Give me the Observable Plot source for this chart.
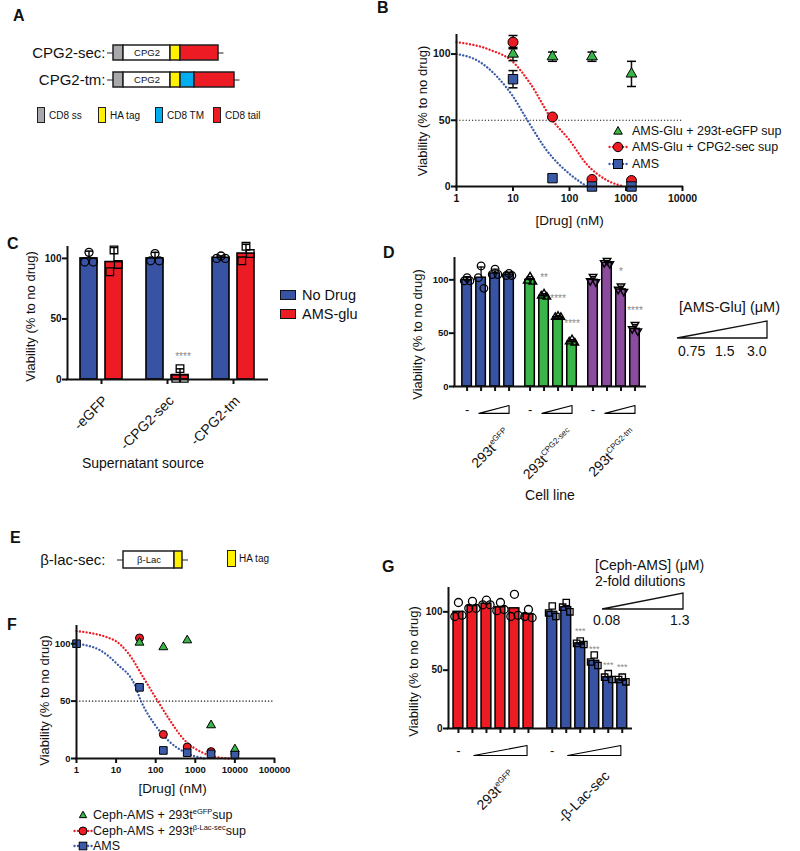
<!DOCTYPE html>
<html>
<head>
<meta charset="utf-8">
<script src="https://cdn.jsdelivr.net/npm/d3@7"></script>
<script src="https://cdn.jsdelivr.net/npm/@observablehq/plot@0.6"></script>
<style>
  html, body { margin: 0; padding: 0; background: #fff; }
  #root { position: relative; width: 800px; height: 851px; overflow: hidden; background: #fff;
          font-family: "Liberation Sans", Arial, Helvetica, sans-serif; color: #111; }
  .abs { position: absolute; white-space: nowrap; line-height: 1; }
  .sup { font-size: 7.5px; position: relative; top: -5px; }
  g[aria-label="y-axis tick label"], g[aria-label="x-axis tick label"] { font-weight: bold; }
</style>
</head>
<body>
<div id="root"></div>
<script>
// ===================== DATA =====================
// Panel A – construct diagrams (relative segment lengths)
const constructsA = ["CPG2-sec:", "CPG2-tm:"];
const cpg2SecParts = ["CD8 ss", "CPG2", "HA tag", "CD8 tail"];
const cpg2SecLengths = [1, 4.7, 1, 3.8];
const cpg2TmParts = ["CD8 ss", "CPG2", "HA tag", "CD8 TM", "CD8 tail"];
const cpg2TmLengths = [1, 4.7, 1, 1.4, 4.0];
const legendPartsA = ["CD8 ss", "HA tag", "CD8 TM", "CD8 tail"];

// Panel E – construct diagram
const constructsE = ["β-lac-sec:"];
const blacParts = ["β-Lac", "HA tag"];
const blacLengths = [5.1, 0.8];

// Panel B – dose response (nM)
const seriesB = ["AMS-Glu + 293t-eGFP sup", "AMS-Glu + CPG2-sec sup", "AMS"];
const doseB = [10, 50, 250, 1250];
const egfpSupB = [100, 98, 98, 85];
const egfpSupErrB = [5, 3.5, 3.5, 9.5];
const cpg2SupB = [109, 52.5, 5.3, 4.5];
const cpg2SupErrB = [5, 0, 0, 0];
const amsB = [81, 6.3, 0, 0];
const amsErrB = [6.5, 0, 0, 0];
const fitCpg2DoseB = [1, 4, 10, 20, 50, 100, 200, 470, 920];
const fitCpg2ValB  = [109, 103, 94, 78, 50, 35, 17, 4.5, 0];
const fitAmsDoseB  = [1, 2.6, 5.2, 10, 18, 40, 97, 205];
const fitAmsValB   = [100, 94, 83, 68, 50, 27, 10, 0];

// Panel C – supernatant source
const groupsC = ["-eGFP", "-CPG2-sec", "-CPG2-tm"];
const treatmentsC = ["No Drug", "AMS-glu"];
const noDrugC = [100, 100, 100.5];
const amsGluC = [97, 3.5, 104];
const noDrugErrC = [6, 5, 1.5];
const amsGluErrC = [12, 5.3, 7.6];
const noDrugRepsC = [[105, 97, 97], [104, 98, 98], [102, 100, 100]];
const amsGluRepsC = [[107, 89, 95], [9, 1, 1], [110, 98, 104]];
const starsAmsGluC = ["", "****", ""];

// Panel D – cell lines x [AMS-Glu]
const cellLinesD = ["293t", "293t", "293t"];
const cellLineSupD = ["eGFP", "CPG2-sec", "CPG2-tm"];
const doseLabelsD = ["0.75", "1.5", "3.0"];
const egfpD = [100, 102, 106, 105];
const cpg2SecD = [100, 85, 65, 42];
const cpg2TmD = [100, 116, 91, 54];
const egfpErrD = [3, 10, 4, 2];
const cpg2SecErrD = [3, 2, 1.5, 2];
const cpg2TmErrD = [3, 2, 3, 4];
const egfpRepsD = [[102, 99, 99], [113, 102, 92], [110, 105, 105], [106, 104, 104]];
const cpg2SecRepsD = [[103, 99, 98], [87, 85, 84], [66, 65, 65], [44, 42, 41]];
const cpg2TmRepsD = [[103, 99, 98], [118, 116, 115], [94, 91, 89], [58, 54, 52]];
const egfpStarsD = ["", "", "", ""];
const cpg2SecStarsD = ["", "**", "****", "****"];
const cpg2TmStarsD = ["", "", "*", "****"];

// Panel F – dose response (nM)
const seriesF = ["Ceph-AMS + 293t", "Ceph-AMS + 293t", "AMS"];
const seriesSupF = ["eGFP", "β-Lac-sec", ""];
const doseF = [1, 39, 156, 625, 2500, 10000];
const egfpSupF = [null, 101, 97, 103, 29, 8];
const blacSupF = [null, 105, 21, 10, 6, 4];
const amsF = [100, 62, 7, 5, 4, 3];
const fitBlacDoseF = [1, 9, 20, 50, 113, 203, 535, 1440, 3800, 7000];
const fitBlacValF  = [111, 103, 92, 70, 50, 36, 16, 5.5, 1, 0];
const fitAmsDoseF  = [1, 4.1, 10.8, 28.7, 42.6, 93, 203, 535, 1740];
const fitAmsValF   = [100, 94, 82, 65, 50, 30, 16, 5.5, 0];

// Panel G – [Ceph-AMS] 2-fold dilutions
const groupsG = ["293t", "-β-Lac-sec"];
const groupSupG = ["eGFP", ""];
const doseLabelsG = ["0.08", "1.3"];
const egfpG = [100, 105, 107, 104, 103, 98];
const blacG = [100, 104, 73, 58, 44, 42];
const egfpRepsG = [[108, 96, 97], [109, 103, 103], [110, 106, 106], [108, 101, 102], [115, 96, 97], [102, 96, 95]];
const blacRepsG = [[105, 99, 96], [108, 104, 100], [75, 73, 72], [63, 57, 54], [47, 44, 42], [44, 42, 40]];
const blacStarsG = ["", "", "***", "***", "***", "***"];

const yTicks = [0, 50, 100];
const yTitle = "Viability (% to no drug)";

// ===================== STYLE =====================
const BLUE = "#3953a4", RED = "#ed1c24", GREEN = "#3ab54a", PURPLE = "#8b4c9f", MBLUE = "#3b5ba8";
const partColor = {"CD8 ss": "#a8a9ad", "CPG2": "#ffffff", "β-Lac": "#ffffff", "HA tag": "#fff200", "CD8 TM": "#00aeef", "CD8 tail": "#ed1c24"};
const FONT = '"Liberation Sans", Arial, Helvetica, sans-serif';
const baseStyle = {fontFamily: FONT, fontSize: "10px", overflow: "visible", background: "transparent", color: "#111"};
const DOTS = {strokeWidth: 2.3, strokeDasharray: "0.1,3.3", strokeLinecap: "round", curve: "monotone-x"};
const capSym = {draw(ctx, size) { const w = Math.sqrt(size / Math.PI); ctx.moveTo(-w, 0); ctx.lineTo(w, 0); }};
const root = document.getElementById("root");

function place(node, left, top) {
  node.style.position = "absolute"; node.style.left = left + "px"; node.style.top = top + "px";
  root.appendChild(node); return node;
}
function html(str, left, top, css = "") {
  const d = document.createElement("div"); d.className = "abs"; d.innerHTML = str;
  d.style.cssText += css; return place(d, left, top);
}
function addSup(svg, desc, sups, size = 8, raise = -6) {
  svg.querySelectorAll(`g[aria-description="${desc}"] text`).forEach((t, i) => {
    if (!sups[i]) return;
    const ts = document.createElementNS("http://www.w3.org/2000/svg", "tspan");
    ts.setAttribute("dy", raise); ts.setAttribute("font-size", size); ts.textContent = sups[i];
    t.appendChild(ts);
  });
}
function frameAxes({xMin, xTicks, xFormat, tickFont = 10, yLabelDx, yLabelDy = 0, xLabel, xLabelDx = 0, xLabelDy, xLabelSize = 14}) {
  const m = [
    Plot.ruleY([0], {strokeWidth: 2, strokeLinecap: "square"}),
    Plot.ruleX([xMin], {strokeWidth: 2, strokeLinecap: "square"}),
    Plot.axisY({ticks: yTicks, tickSize: 5, tickPadding: 1, strokeWidth: 2, fontWeight: "bold", fontSize: tickFont, label: null}),
    Plot.axisX({ticks: xTicks, tickFormat: xFormat, tickSize: 5, tickPadding: 3, strokeWidth: 2, fontWeight: "bold", fontSize: tickFont, label: null}),
    Plot.text([yTitle], {text: d => d, frameAnchor: "left", textAnchor: "middle", lineAnchor: "middle", rotate: -90, dx: yLabelDx, dy: yLabelDy, fontSize: 13})
  ];
  if (xLabel) m.push(Plot.text([xLabel], {text: d => d, frameAnchor: "bottom", textAnchor: "middle", lineAnchor: "middle", dx: xLabelDx, dy: xLabelDy, fontSize: xLabelSize}));
  return m;
}

// ===================== PANEL A =====================
const segA = [];
constructsA.forEach((row, r) => {
  const parts = r === 0 ? cpg2SecParts : cpg2TmParts;
  const lens = r === 0 ? cpg2SecLengths : cpg2TmLengths;
  parts.forEach((p, i) => segA.push({row, part: p, len: lens[i]}));
});
const totalA = constructsA.map(row => d3.sum(segA.filter(d => d.row === row), d => d.len));
place(Plot.plot({
  width: 300, height: 100, marginLeft: 113, marginRight: 57, marginTop: 32, marginBottom: 0,
  style: baseStyle,
  x: {domain: [0, 13], axis: null},
  y: {domain: constructsA, padding: 0.43, axis: null},
  color: {type: "identity"},
  marks: [
    Plot.ruleY(constructsA, {y: d => d, x1: -0.6, x2: (d, i) => totalA[i] + 0.55, stroke: "#222", strokeWidth: 1.2}),
    Plot.barX(segA, {x: "len", y: "row", fill: d => partColor[d.part], stroke: "#231f20", strokeWidth: 1.5}),
    Plot.text(segA, Plot.stackX({x: "len", y: "row", text: d => d.part === "CPG2" ? "CPG2" : "", fontSize: 9.5})),
    Plot.text(constructsA, {y: d => d, text: d => d, frameAnchor: "left", dx: -8, textAnchor: "end", fontSize: 15})
  ]
}), 0, 0);

// legend A
legendPartsA.forEach((p, i) => {
  const left = [37, 98, 155, 213][i];
  html("", left, 107, `width:8px;height:16px;box-sizing:border-box;border:1.5px solid #231f20;background:${partColor[p]}`);
  html(p, left + 12, 111, "font-size:10px");
});

// ===================== PANEL E =====================
const segE = blacParts.map((p, i) => ({row: constructsE[0], part: p, len: blacLengths[i]}));
const totalE = d3.sum(blacLengths);
place(Plot.plot({
  width: 250, height: 17, marginLeft: 123, marginRight: 0, marginTop: 0, marginBottom: 0,
  style: baseStyle,
  x: {domain: [0, 12.7], axis: null},
  y: {domain: constructsE, padding: 0, axis: null},
  color: {type: "identity"},
  marks: [
    Plot.ruleY(constructsE, {y: d => d, x1: -0.6, x2: totalE + 0.6, stroke: "#222", strokeWidth: 1.2}),
    Plot.barX(segE, {x: "len", y: "row", fill: d => partColor[d.part], stroke: "#231f20", strokeWidth: 1.5}),
    Plot.text(segE, Plot.stackX({x: "len", y: "row", text: d => d.part === "β-Lac" ? "β-Lac" : "", fontSize: 9.5})),
    Plot.text(constructsE, {y: d => d, text: d => d, frameAnchor: "left", dx: -18, textAnchor: "end", fontSize: 15})
  ]
}), 0, 551);
html("", 227, 550, `width:9px;height:17px;box-sizing:border-box;border:1.5px solid #231f20;background:${partColor["HA tag"]}`);
html("HA tag", 239, 554, "font-size:10px");

// ===================== PANEL B =====================
const tab = (dose, vals, errs, s) => dose.map((d, i) => ({dose: d, v: vals[i], e: errs ? errs[i] : 0, s})).filter(d => d.v != null);
const ptsB = [...tab(doseB, egfpSupB, egfpSupErrB, 0), ...tab(doseB, cpg2SupB, cpg2SupErrB, 1), ...tab(doseB, amsB, amsErrB, 2)];
const errB = ptsB.filter(d => d.e > 0);
const fitB = [...fitCpg2DoseB.map((x, i) => ({x, y: fitCpg2ValB[i], s: 1})), ...fitAmsDoseB.map((x, i) => ({x, y: fitAmsValB[i], s: 2}))];
place(Plot.plot({
  width: 420, height: 235, marginLeft: 76, marginRight: 118, marginTop: 35, marginBottom: 49,
  style: baseStyle,
  x: {type: "log", domain: [1, 10000]},
  y: {domain: [0, 114]},
  marks: [
    Plot.ruleY([50], {stroke: "#111", strokeWidth: 1.2, strokeDasharray: "1.2,2"}),
    Plot.line(fitB.filter(d => d.s === 1), {x: "x", y: "y", stroke: RED, ...DOTS}),
    Plot.line(fitB.filter(d => d.s === 2), {x: "x", y: "y", stroke: MBLUE, ...DOTS}),
    Plot.ruleX(errB, {x: "dose", y1: d => d.v - d.e, y2: d => d.v + d.e, strokeWidth: 1.5}),
    Plot.dot(errB, {x: "dose", y: d => d.v + d.e, symbol: capSym, r: 4.5, fill: "none", stroke: "black", strokeWidth: 1.5}),
    Plot.dot(errB, {x: "dose", y: d => d.v - d.e, symbol: capSym, r: 4.5, fill: "none", stroke: "black", strokeWidth: 1.5}),
    Plot.dot(ptsB.filter(d => d.s === 0), {x: "dose", y: "v", symbol: "triangle", r: 4, fill: GREEN, stroke: "black", strokeWidth: 1}),
    Plot.dot(ptsB.filter(d => d.s === 1), {x: "dose", y: "v", symbol: "circle", r: 5, fill: RED, stroke: "black", strokeWidth: 1}),
    Plot.dot(ptsB.filter(d => d.s === 2), {x: "dose", y: "v", symbol: "square", r: 5.3, fill: MBLUE, stroke: "black", strokeWidth: 1}),
    ...frameAxes({xMin: 1, xTicks: [1, 10, 100, 1000, 10000], xFormat: d => String(d), tickFont: 10.5, yLabelDx: -34, xLabel: "[Drug] (nM)", xLabelDy: 34, xLabelSize: 13.5})
  ]
}), 380, 0);

function marker(type, color, withLine, r) {
  const w = 20, h = 14, c = 10, cy = 7;
  let s = `<svg width="${w}" height="${h}" style="display:block">`;
  if (withLine) s += `<line x1="1.5" y1="${cy}" x2="19" y2="${cy}" stroke="${color}" stroke-width="2.3" stroke-linecap="round" stroke-dasharray="0.1,3.3"/>`;
  if (type === "triangle") s += `<polygon points="${c},${cy - r} ${c + r * 0.95},${cy + r * 0.7} ${c - r * 0.95},${cy + r * 0.7}" fill="${color}" stroke="#000" stroke-width="1"/>`;
  if (type === "circle") s += `<circle cx="${c}" cy="${cy}" r="${r}" fill="${color}" stroke="#000" stroke-width="1"/>`;
  if (type === "square") s += `<rect x="${c - r}" y="${cy - r}" width="${2 * r}" height="${2 * r}" fill="${color}" stroke="#000" stroke-width="1"/>`;
  return s + "</svg>";
}
// legend B
[["triangle", GREEN, false, 4.5], ["circle", RED, true, 4.7], ["square", MBLUE, true, 4.5]].forEach((m, i) => {
  const cy = [131, 147, 164][i];
  html(marker(...m), 608, cy - 7);
  html(seriesB[i], 632, cy - 6.5, "font-size:12.5px");
});

// ===================== PANEL C =====================
const posC = (g, t) => g * 2.64 + (t === 0 ? -0.5 : 0.5);
const jitC = [0, -0.17, 0.17];
const barsC = [], repsC = [];
groupsC.forEach((grp, g) => {
  barsC.push({pos: posC(g, 0), mean: noDrugC[g], err: noDrugErrC[g], fill: BLUE, star: ""});
  barsC.push({pos: posC(g, 1), mean: amsGluC[g], err: amsGluErrC[g], fill: RED, star: starsAmsGluC[g]});
  noDrugRepsC[g].forEach((v, k) => repsC.push({pos: posC(g, 0) + jitC[k], v, t: 0}));
  amsGluRepsC[g].forEach((v, k) => repsC.push({pos: posC(g, 1) + jitC[k], v, t: 1}));
});
place(Plot.plot({
  width: 290, height: 250, marginLeft: 67, marginRight: 23, marginTop: 17, marginBottom: 101,
  style: baseStyle,
  x: {domain: [-1.36, 6.64]},
  y: {domain: [0, 109]},
  color: {type: "identity"},
  marks: [
    Plot.rectY(barsC, {x1: d => d.pos - 0.34, x2: d => d.pos + 0.34, y1: 0, y2: "mean", fill: "fill", stroke: "black", strokeWidth: 1.6}),
    Plot.ruleX(barsC, {x: "pos", y1: "mean", y2: d => d.mean + d.err, strokeWidth: 1.5}),
    Plot.dot(barsC, {x: "pos", y: d => d.mean + d.err, symbol: capSym, r: 4, fill: "none", stroke: "black", strokeWidth: 1.5}),
    Plot.dot(repsC.filter(d => d.t === 0), {x: "pos", y: "v", symbol: "circle", r: 4, fill: "none", stroke: "black", strokeWidth: 1.3}),
    Plot.dot(repsC.filter(d => d.t === 1), {x: "pos", y: "v", symbol: "square", r: 4.3, fill: "none", stroke: "black", strokeWidth: 1.3}),
    Plot.text(barsC, {x: "pos", y: "mean", text: "star", dx: 3, dy: -18, fontSize: 10, fill: "#888"}),
    Plot.text(groupsC, {x: (d, i) => i * 2.64, y: 0, text: d => d, rotate: -45, textAnchor: "end", dx: 4, dy: 19, fontSize: 14}),
    ...frameAxes({xMin: -1.36, xTicks: groupsC.map((d, i) => i * 2.64), xFormat: () => "", yLabelDx: -37, yLabelDy: 3, xLabel: "Supernatant source", xLabelDx: -24.5, xLabelDy: 84})
  ]
}), 0, 230);
// legend C
[BLUE, RED].forEach((c, i) => {
  const cy = [295, 314][i];
  html("", 280, cy - 5, `width:16px;height:10px;box-sizing:border-box;border:1.5px solid #111;background:${c}`);
  html(treatmentsC[i], 302, cy - 7.5, "font-size:14.5px");
});

// ===================== PANEL D =====================
const posD = (g, i) => g * 4.5 + i;
const jitD = [0, -0.2, 0.2];
const meansD = [egfpD, cpg2SecD, cpg2TmD];
const errsD = [egfpErrD, cpg2SecErrD, cpg2TmErrD];
const repsDAll = [egfpRepsD, cpg2SecRepsD, cpg2TmRepsD];
const starsD = [egfpStarsD, cpg2SecStarsD, cpg2TmStarsD];
const colorsD = [BLUE, GREEN, PURPLE];
const barsD = [], repsD = [], rampD = [];
meansD.forEach((arr, g) => {
  arr.forEach((m, i) => {
    barsD.push({g, i, pos: posD(g, i), mean: m, err: errsD[g][i], fill: colorsD[g], star: starsD[g][i]});
    repsDAll[g][i].forEach((v, k) => repsD.push({g, pos: posD(g, i) + jitD[k], v}));
  });
  const l = posD(g, 1) - 0.15, r = posD(g, 3);
  [[l, -25.2], [r, -25.2], [r, -17.8], [l, -25.2]].forEach(([x, y]) => rampD.push({g, x, y}));
});
const plotD = Plot.plot({
  width: 420, height: 270, marginLeft: 74, marginRight: 155, marginTop: 18, marginBottom: 124,
  style: baseStyle,
  x: {domain: [-0.9, 12.75]},
  y: {domain: [0, 120]},
  color: {type: "identity"},
  marks: [
    Plot.rectY(barsD, {x1: d => d.pos - 0.34, x2: d => d.pos + 0.34, y1: 0, y2: "mean", fill: "fill", stroke: "black", strokeWidth: 1.5}),
    Plot.ruleX(barsD, {x: "pos", y1: "mean", y2: d => d.mean + d.err, strokeWidth: 1.3}),
    Plot.dot(barsD, {x: "pos", y: d => d.mean + d.err, symbol: capSym, r: 3, fill: "none", stroke: "black", strokeWidth: 1.3}),
    Plot.dot(repsD.filter(d => d.g === 0), {x: "pos", y: "v", symbol: "circle", r: 3.8, fill: "none", stroke: "black", strokeWidth: 1.3}),
    Plot.dot(repsD.filter(d => d.g === 1), {x: "pos", y: "v", symbol: "triangle", r: 2.8, fill: "none", stroke: "black", strokeWidth: 1.4}),
    Plot.dot(repsD.filter(d => d.g === 2), {x: "pos", y: "v", symbol: "triangle", rotate: 180, r: 2.8, fill: "none", stroke: "black", strokeWidth: 1.4}),
    Plot.text(barsD, {x: "pos", y: "mean", text: "star", dy: -18, fontSize: 10, fill: "#888"}),
    Plot.line(rampD, {x: "x", y: "y", z: "g", stroke: "black", strokeWidth: 1.1}),
    Plot.text(cellLinesD, {x: (d, g) => posD(g, 0), y: 0, text: () => "-", dy: 23, fontSize: 13}),
    Plot.text(cellLinesD, {x: (d, g) => posD(g, 1.5), y: 0, text: d => d, rotate: -45, textAnchor: "end", dx: 20, dy: 45, fontSize: 14, ariaDescription: "cell-line-label"}),
    ...frameAxes({xMin: -0.9, xTicks: barsD.map(d => d.pos), xFormat: () => "", tickFont: 9.5, yLabelDx: -37, yLabelDy: 12, xLabel: "Cell line", xLabelDy: 109})
  ]
});
addSup(plotD, "cell-line-label", cellLineSupD);
place(plotD, 380, 240);
// dose legend D
html("[AMS-Glu] (μM)", 679, 300, "font-size:14.5px");
html(`<svg width="94" height="21" style="display:block"><polygon points="1,19 91,19 91,2" fill="none" stroke="#111" stroke-width="1.3"/></svg>`, 676, 319);
doseLabelsD.forEach((t, i) => html(t, [678, 715, 747][i], 344, "font-size:14px"));

// ===================== PANEL F =====================
const ptsF = [...tab(doseF, blacSupF, null, 1), ...tab(doseF, egfpSupF, null, 0), ...tab(doseF, amsF, null, 2)];
const fitF = [...fitBlacDoseF.map((x, i) => ({x, y: fitBlacValF[i], s: 1})), ...fitAmsDoseF.map((x, i) => ({x, y: fitAmsValF[i], s: 2}))];
place(Plot.plot({
  width: 300, height: 185, marginLeft: 76, marginRight: 26, marginTop: 11, marginBottom: 42,
  style: baseStyle,
  x: {type: "log", domain: [1, 100000]},
  y: {domain: [0, 115]},
  marks: [
    Plot.ruleY([50], {stroke: "#111", strokeWidth: 1.2, strokeDasharray: "1.2,2"}),
    Plot.line(fitF.filter(d => d.s === 1), {x: "x", y: "y", stroke: RED, ...DOTS}),
    Plot.line(fitF.filter(d => d.s === 2), {x: "x", y: "y", stroke: MBLUE, ...DOTS}),
    Plot.dot(ptsF.filter(d => d.s === 1), {x: "dose", y: "v", symbol: "circle", r: 4, fill: RED, stroke: "black", strokeWidth: 1}),
    Plot.dot(ptsF.filter(d => d.s === 0), {x: "dose", y: "v", symbol: "triangle", r: 3.3, fill: GREEN, stroke: "black", strokeWidth: 1}),
    Plot.dot(ptsF.filter(d => d.s === 2), {x: "dose", y: "v", symbol: "square", r: 4.3, fill: MBLUE, stroke: "black", strokeWidth: 1}),
    ...frameAxes({xMin: 1, xTicks: [1, 10, 100, 1000, 10000, 100000], xFormat: d => String(d), tickFont: 9.5, yLabelDx: -32, yLabelDy: 8, xLabel: "[Drug] (nM)", xLabelDx: -3, xLabelDy: 30, xLabelSize: 13.5})
  ]
}), 0, 615);
// legend F
[["triangle", GREEN, false, 3.8], ["circle", RED, true, 4], ["square", MBLUE, true, 3.8]].forEach((m, i) => {
  const cy = [815, 831, 846][i];
  html(marker(...m), 73, cy - 7);
  const sup = seriesSupF[i] ? `<span class="sup">${seriesSupF[i]}</span>sup` : "";
  html(seriesF[i] + sup, 93, cy - 6.5, "font-size:12.5px");
});

// ===================== PANEL G =====================
const posG = (g, i) => g * 6.7 + i;
const jitG = [0, -0.26, 0.26];
const meansG = [egfpG, blacG];
const repsGAll = [egfpRepsG, blacRepsG];
const starsG = [["", "", "", "", "", ""], blacStarsG];
const colorsG = [RED, BLUE];
const barsG = [], repsG = [], rampG = [];
meansG.forEach((arr, g) => {
  arr.forEach((m, i) => {
    barsG.push({g, pos: posG(g, i), mean: m, fill: colorsG[g], star: starsG[g][i]});
    repsGAll[g][i].forEach((v, k) => repsG.push({g, pos: posG(g, i) + jitG[k], v}));
  });
  const l = posG(g, 1) + 0.1, r = posG(g, 5) - 0.1;
  [[l, -23.1], [r, -23.1], [r, -14.6], [l, -23.1]].forEach(([x, y]) => rampG.push({g, x, y}));
});
const plotG = Plot.plot({
  width: 420, height: 230, marginLeft: 68, marginRight: 169, marginTop: 8, marginBottom: 82,
  style: baseStyle,
  x: {domain: [-0.71, 12.36]},
  y: {domain: [0, 120]},
  color: {type: "identity"},
  marks: [
    Plot.rectY(barsG, {x1: d => d.pos - 0.35, x2: d => d.pos + 0.35, y1: 0, y2: "mean", fill: "fill", stroke: "black", strokeWidth: 1.5}),
    Plot.dot(repsG.filter(d => d.g === 0), {x: "pos", y: "v", symbol: "circle", r: 4, fill: "none", stroke: "black", strokeWidth: 1.3}),
    Plot.dot(repsG.filter(d => d.g === 1), {x: "pos", y: "v", symbol: "square", r: 3.6, fill: "none", stroke: "black", strokeWidth: 1.3}),
    Plot.text(barsG, {x: "pos", y: "mean", text: "star", dy: -12, fontSize: 9, fill: "#888"}),
    Plot.line(rampG, {x: "x", y: "y", z: "g", stroke: "black", strokeWidth: 1.1}),
    Plot.text(groupsG, {x: (d, g) => posG(g, 0), y: 0, text: () => "-", dy: 22, fontSize: 13}),
    Plot.text(groupsG, {x: (d, g) => posG(g, 2.5), y: 0, text: d => d, rotate: -45, textAnchor: "end", dx: 20, dy: 45, fontSize: 14, ariaDescription: "group-label-g"}),
    ...frameAxes({xMin: -0.71, xTicks: barsG.map(d => d.pos), xFormat: () => "", tickFont: 10, yLabelDx: -35, yLabelDy: 13})
  ]
});
addSup(plotG, "group-label-g", groupSupG);
place(plotG, 380, 580);
// dose legend G
html("[Ceph-AMS] (μM)", 595, 558, "font-size:14px");
html("2-fold dilutions", 595, 574, "font-size:14px");
html(`<svg width="85" height="19" style="display:block"><polygon points="1,17 82,17 82,1" fill="none" stroke="#111" stroke-width="1.3"/></svg>`, 601, 592);
doseLabelsG.forEach((t, i) => html(t, [593, 670][i], 613, "font-size:14px"));

// ===================== PANEL LETTERS =====================
[["A", 13, 8], ["B", 377, 0], ["C", 7, 236], ["D", 383, 245], ["E", 10, 530], ["F", 7, 617], ["G", 382, 559]]
  .forEach(([t, x, y]) => html(t, x, y, "font-weight:bold;font-size:16px"));
</script>
</body>
</html>
